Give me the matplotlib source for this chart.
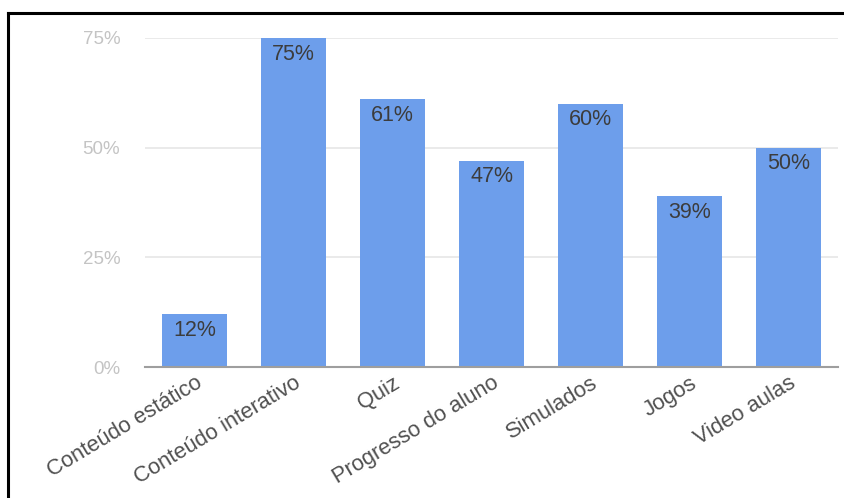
import matplotlib
matplotlib.use('Agg')
import matplotlib.pyplot as plt
from matplotlib.lines import Line2D

plt.rcParams['font.family'] = ['Liberation Sans', 'DejaVu Sans']

categorias = ["Conteúdo estático", "Conteúdo interativo", "Quiz", "Progresso do aluno",
              "Simulados", "Jogos", "Video aulas"]
valores = [12, 75, 61, 47, 60, 39, 50]
yticks = [0, 25, 50, 75]

fig = plt.figure(figsize=(8.44, 4.98), dpi=100)
ax = fig.add_axes([0.172, 0.263, 0.821, 0.661])

x = range(len(categorias))
ax.bar(x, valores, width=0.65, color='#6d9eeb', zorder=3)
for xi, v in zip(x, valores):
    ax.text(xi, v - 1.3, f"{v}%", ha='center', va='top', fontsize=15.5, color='#3c3c3c', zorder=4)

ax.set_xlim(-0.5, len(categorias) - 0.5)
ax.set_ylim(0, 75)
ax.set_yticks(yticks)
ax.set_yticklabels([f"{t}%" for t in yticks], color='#c4c4c4', fontsize=13.5)
ax.yaxis.grid(True, color='#e6e6e6', linewidth=1.2, zorder=0)
ax.axhline(0, color='#9e9e9e', linewidth=1.5, zorder=5, clip_on=False)
ax.tick_params(axis='y', length=0, pad=18)
ax.tick_params(axis='x', length=0, pad=4)
ax.set_xticks(list(x))
ax.set_xticklabels(categorias, rotation=31, ha='right', rotation_mode='anchor',
                   fontsize=15.8, color='#505050')
for s in ax.spines.values():
    s.set_visible(False)

# moldura da captura
fig.add_artist(Line2D([0.0095, 1.0], [0.974, 0.974], color='black', linewidth=2.2, transform=fig.transFigure))
fig.add_artist(Line2D([0.0095, 0.0095], [0.0, 0.974], color='black', linewidth=2.2, transform=fig.transFigure))

fig.savefig('out.png', dpi=100)
